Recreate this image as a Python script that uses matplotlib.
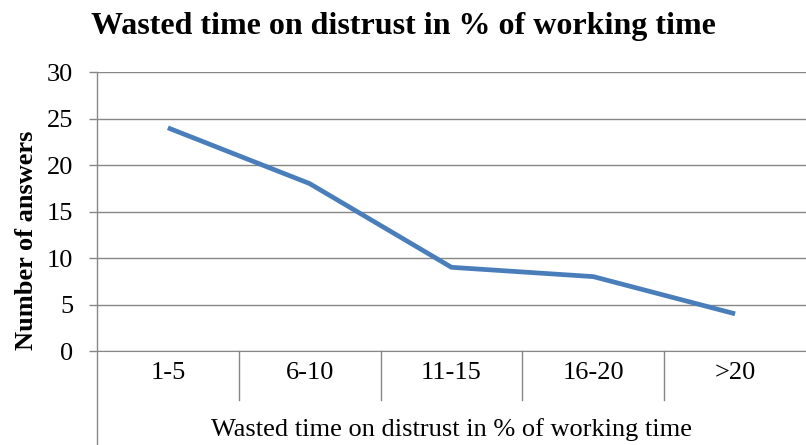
import matplotlib.pyplot as plt
from matplotlib.lines import Line2D

# Data
categories = ['1-5', '6-10', '11-15', '16-20', '>20']
answers = [24, 18, 9, 8, 4]
y_ticks = [0, 5, 10, 15, 20, 25, 30]

plt.rcParams['font.family'] = ['Liberation Serif', 'DejaVu Serif']

fig = plt.figure(figsize=(8.06, 4.45), dpi=100)
ax = fig.add_axes([0.1203, 0.2112, 0.8797, 0.627])

x = range(len(categories))
ax.plot(x, answers, color='#4A7EBB', linewidth=3.4, solid_capstyle='butt')

ax.set_xlim(-0.5, len(categories) - 0.5)
ax.set_ylim(0, 30)
ax.set_yticks(y_ticks)
ax.set_xticks(list(x))
ax.set_xticklabels(categories)

grid_color = '#878787'
ax.yaxis.grid(True, color=grid_color, linewidth=1)
ax.set_axisbelow(True)
for s in ['top', 'right', 'left']:
    ax.spines[s].set_visible(False)
ax.spines['bottom'].set_color(grid_color)

ax.tick_params(axis='y', length=6, color=grid_color, width=1, labelsize=19, pad=11)
ax.tick_params(axis='x', length=0, labelsize=19, pad=8)

# category separators below the axis (Excel style)
for i in range(1, len(categories)):
    ax.add_line(Line2D([i - 0.5, i - 0.5], [0, -0.175], color=grid_color, linewidth=1,
                       transform=ax.get_xaxis_transform(), clip_on=False))
# left axis line running down through the label area
ax.add_line(Line2D([0, 0], [1, -0.34], color=grid_color, linewidth=1,
                   transform=ax.transAxes, clip_on=False))

ax.text(0.5, -0.283, 'Wasted time on distrust in % of working time', fontsize=19,
        ha='center', va='center', transform=ax.transAxes)
ax.set_ylabel('Number of answers', fontsize=19, fontweight='bold')
ax.yaxis.set_label_coords(-0.1, 0.398)
ax.yaxis.label.set_va('center')

fig.text(0.5, 0.94, 'Wasted time on distrust in % of working time',
         ha='center', va='center', fontsize=23, fontweight='bold')

plt.savefig('out.png', dpi=100)
